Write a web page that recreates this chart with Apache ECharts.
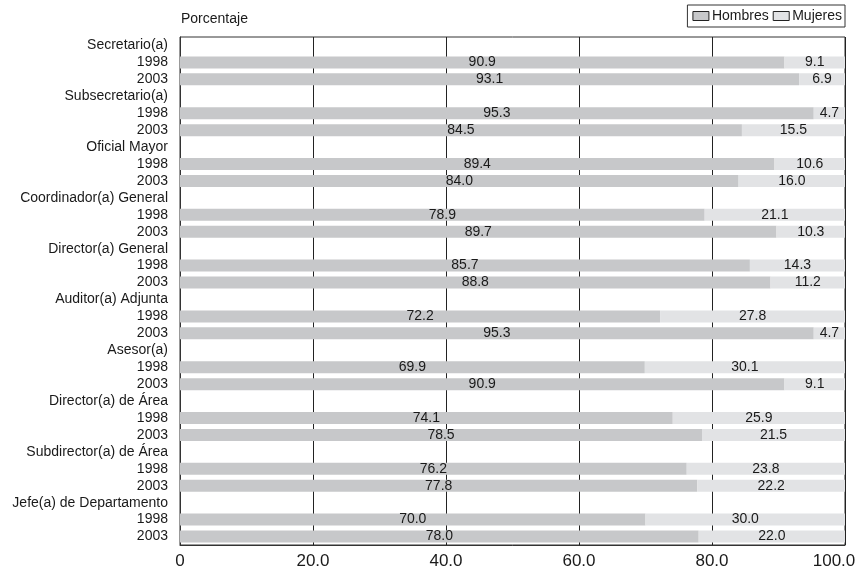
<!DOCTYPE html>
<html>
<head>
<meta charset="utf-8">
<script src="https://cdn.jsdelivr.net/npm/echarts@6/dist/echarts.min.js"></script>
<style>html,body{margin:0;padding:0;background:#fff}#c{width:858px;height:571px}</style>
</head>
<body>
<div id="c"></div>
<script>
var categories = [
  "Secretario(a)", "1998", "2003",
  "Subsecretario(a)", "1998", "2003",
  "Oficial Mayor", "1998", "2003",
  "Coordinador(a) General", "1998", "2003",
  "Director(a) General", "1998", "2003",
  "Auditor(a) Adjunta", "1998", "2003",
  "Asesor(a)", "1998", "2003",
  "Director(a) de Área", "1998", "2003",
  "Subdirector(a) de Área", "1998", "2003",
  "Jefe(a) de Departamento", "1998", "2003"
];
var hombres = [
  null, 90.9, 93.1,
  null, 95.3, 84.5,
  null, 89.4, 84.0,
  null, 78.9, 89.7,
  null, 85.7, 88.8,
  null, 72.2, 95.3,
  null, 69.9, 90.9,
  null, 74.1, 78.5,
  null, 76.2, 77.8,
  null, 70.0, 78.0
];
var mujeres = [
  null, 9.1, 6.9,
  null, 4.7, 15.5,
  null, 10.6, 16.0,
  null, 21.1, 10.3,
  null, 14.3, 11.2,
  null, 27.8, 4.7,
  null, 30.1, 9.1,
  null, 25.9, 21.5,
  null, 23.8, 22.2,
  null, 30.0, 22.0
];
var xTicks = [0, 20, 40, 60, 80, 100];

var FONT = "'Liberation Sans', Arial, sans-serif";
var chart = echarts.init(document.getElementById('c'));
var labelCfg = {
  show: true, position: 'inside', color: '#1a1a1a', fontSize: 14, fontFamily: FONT,
  formatter: function (p) { return p.value == null ? '' : p.value.toFixed(1); }
};
chart.setOption({
  animation: false,
  textStyle: { fontFamily: FONT },
  title: {
    text: 'Porcentaje', left: 181, top: 12, padding: 0,
    textStyle: { fontSize: 14, fontWeight: 'normal', color: '#1a1a1a', fontFamily: FONT }
  },
  legend: {
    right: 13, top: 5, itemGap: 4, itemWidth: 16, itemHeight: 9, padding: [4, 3, 4, 5],
    icon: 'rect',
    borderColor: '#333', borderWidth: 1,
    textStyle: { fontSize: 14, color: '#1a1a1a', fontFamily: FONT, padding: [0, 0, 0, -2] },
    data: [
      { name: 'Hombres', itemStyle: { borderColor: '#222', borderWidth: 1 } },
      { name: 'Mujeres', itemStyle: { borderColor: '#222', borderWidth: 1 } }
    ]
  },
  grid: { left: 180, right: 13, top: 37, bottom: 26, containLabel: false, outerBoundsMode: 'none',
          show: true, borderColor: '#333', borderWidth: 1 },
  xAxis: {
    type: 'value', min: 0, max: 100, interval: 20,
    axisLine: { show: true, lineStyle: { color: '#333' } },
    axisTick: { show: false },
    splitLine: { show: true, lineStyle: { color: '#222', width: 1 } },
    axisLabel: {
      fontSize: 17, color: '#1a1a1a', fontFamily: FONT, margin: 8, hideOverlap: false,
      formatter: function (v) {
        if (xTicks.indexOf(v) < 0) return '';
        if (v === 0) return '0';
        if (v === 100) return '{m|' + v.toFixed(1) + '}';
        return v.toFixed(1);
      },
      rich: { m: { fontSize: 17, color: '#1a1a1a', fontFamily: FONT, padding: [0, 22, 0, 0] } }
    }
  },
  yAxis: {
    type: 'category', inverse: true, data: categories,
    axisLine: { show: true, lineStyle: { color: '#333' } },
    axisTick: { show: false },
    axisLabel: { fontSize: 14, color: '#1a1a1a', fontFamily: FONT, margin: 12, interval: 0 }
  },
  series: [
    { name: 'Hombres', type: 'bar', stack: 'a', data: hombres, barWidth: 12,
      itemStyle: { color: '#c7c8ca' }, label: labelCfg },
    { name: 'Mujeres', type: 'bar', stack: 'a', data: mujeres, barWidth: 12,
      itemStyle: { color: '#e2e3e5' }, label: labelCfg }
  ]
});
</script>
</body>
</html>
